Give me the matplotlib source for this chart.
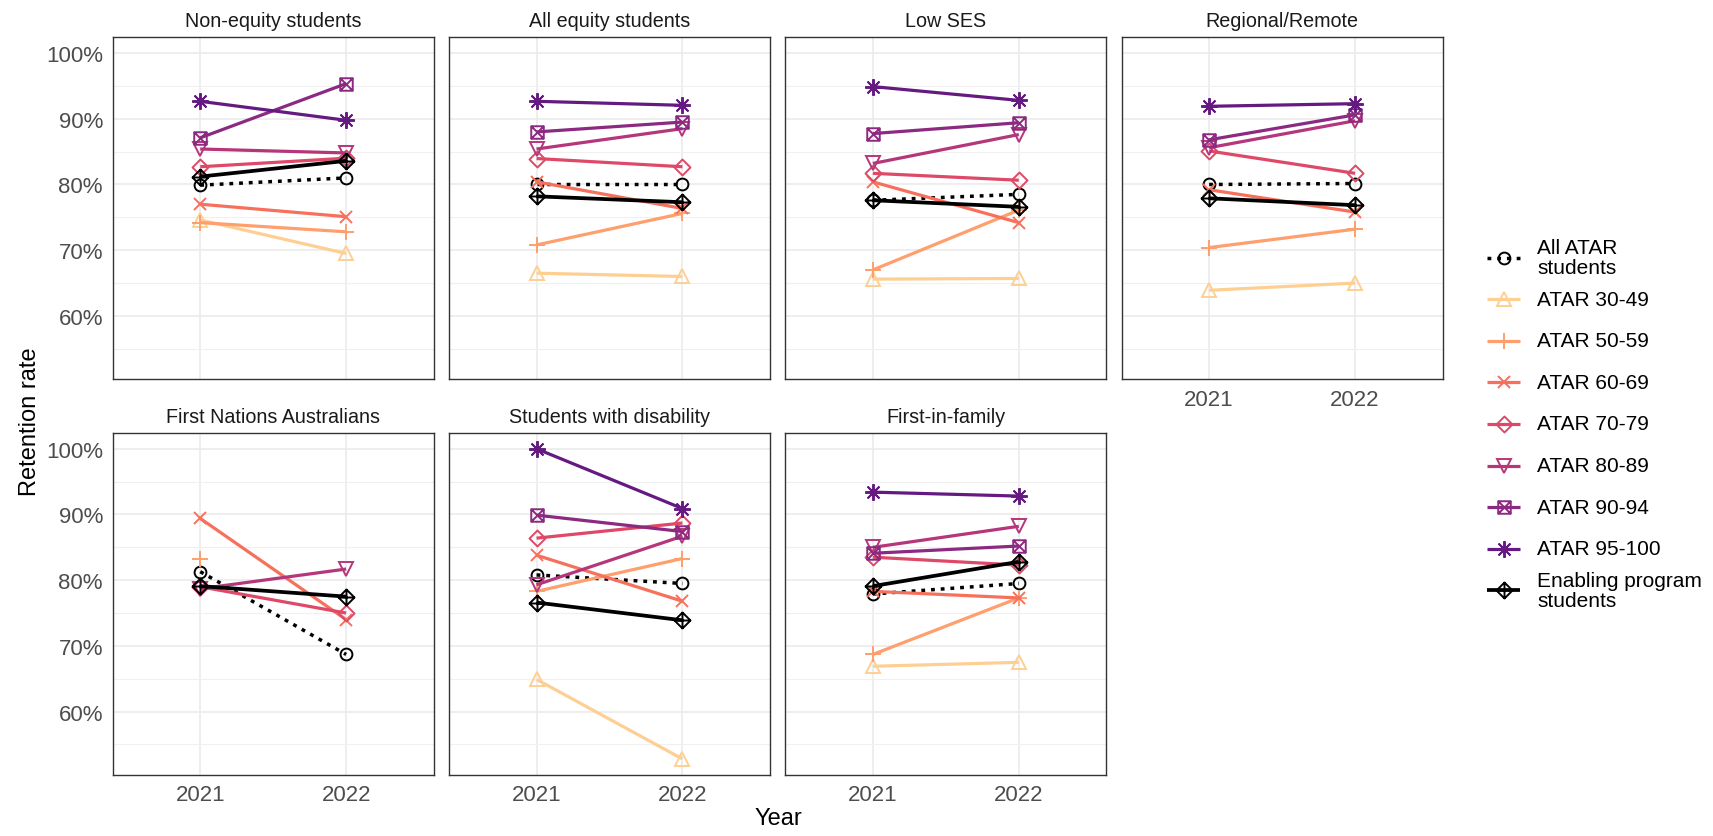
import numpy as np
import matplotlib
matplotlib.use("Agg")
import matplotlib.pyplot as plt
from matplotlib.path import Path

plt.rcParams['font.family'] = ['Liberation Sans', 'DejaVu Sans']

nan = np.nan

# panels (facet order) and years
panels = ["Non-equity students", "All equity students", "Low SES", "Regional/Remote",
          "First Nations Australians", "Students with disability", "First-in-family"]
years = ["2021", "2022"]

series = ["All ATAR\nstudents", "ATAR 30-49", "ATAR 50-59", "ATAR 60-69", "ATAR 70-79",
          "ATAR 80-89", "ATAR 90-94", "ATAR 95-100", "Enabling program\nstudents"]

# retention rate (%) per panel, one list for each year
all_atar_2021 = [79.9, 80.0, 77.6, 80.0, 81.3, 80.8, 77.9]
all_atar_2022 = [81.0, 80.0, 78.5, 80.15, 68.7, 79.5, 79.5]
atar_30_49_2021 = [74.6, 66.5, 65.6, 63.9, nan, 64.9, 66.9]
atar_30_49_2022 = [69.5, 66.0, 65.7, 65.0, nan, 52.8, 67.5]
atar_50_59_2021 = [74.2, 70.8, 67.0, 70.4, 83.2, 78.3, 68.7]
atar_50_59_2022 = [72.8, 75.6, 76.1, 73.2, nan, 83.3, 77.3]
atar_60_69_2021 = [77.0, 80.4, 80.4, 79.2, 89.4, 83.8, 78.3]
atar_60_69_2022 = [75.1, 76.35, 74.2, 75.8, 74.0, 76.8, 77.3]
atar_70_79_2021 = [82.7, 83.95, 81.7, 85.1, 79.0, 86.4, 83.5]
atar_70_79_2022 = [84.0, 82.7, 80.65, 81.7, 75.0, 88.7, 82.3]
atar_80_89_2021 = [85.4, 85.4, 83.2, 85.6, 78.7, 79.3, 85.0]
atar_80_89_2022 = [84.8, 88.5, 87.6, 89.7, 81.7, 86.7, 88.2]
atar_90_94_2021 = [87.1, 88.0, 87.75, 86.8, nan, 89.9, 84.1]
atar_90_94_2022 = [95.35, 89.5, 89.4, 90.6, nan, 87.4, 85.2]
atar_95_100_2021 = [92.66, 92.66, 94.9, 91.9, nan, 100.0, 93.4]
atar_95_100_2022 = [89.77, 92.05, 92.8, 92.3, nan, 90.9, 92.8]
enabling_2021 = [81.2, 78.2, 77.6, 77.9, 79.1, 76.6, 79.1]
enabling_2022 = [83.6, 77.3, 76.6, 76.85, 77.5, 73.9, 82.8]

values = [
    (all_atar_2021, all_atar_2022),
    (atar_30_49_2021, atar_30_49_2022),
    (atar_50_59_2021, atar_50_59_2022),
    (atar_60_69_2021, atar_60_69_2022),
    (atar_70_79_2021, atar_70_79_2022),
    (atar_80_89_2021, atar_80_89_2022),
    (atar_90_94_2021, atar_90_94_2022),
    (atar_95_100_2021, atar_95_100_2022),
    (enabling_2021, enabling_2022),
]

# marker shapes like ggplot's 7 (square cross), 5 (diamond) and 9 (diamond plus)
M, L, C = Path.MOVETO, Path.LINETO, Path.CLOSEPOLY
sq_cross = Path([(-1, -1), (1, -1), (1, 1), (-1, 1), (-1, -1), (-1, -1), (1, 1), (-1, 1), (1, -1)],
                [M, L, L, L, C, M, L, M, L])
diamond = Path([(0, -1), (1, 0), (0, 1), (-1, 0), (0, -1)], [M, L, L, L, C])
diamond_plus = Path([(0, -1), (1, 0), (0, 1), (-1, 0), (0, -1), (0, -1), (0, 1), (-1, 0), (1, 0)],
                    [M, L, L, L, C, M, L, M, L])

magma = plt.cm.magma(np.linspace(0.9, 0.3, 7))
styles = [dict(color="black", lw=2.5, dashes=(1.1, 1.7), marker="o", ms=8.5)]
shapes = [("^", 10), ("+", 11), ("x", 9), (diamond, 11.5), ("v", 10), (sq_cross, 9), ((8, 2, 0), 12)]
for col, (mk, ms) in zip(magma, shapes):
    styles.append(dict(color=col, lw=2.3, marker=mk, ms=ms))
styles.append(dict(color="black", lw=2.7, marker=diamond_plus, ms=11.5))

W, H = 1713, 837
fig = plt.figure(figsize=(W / 100, H / 100), dpi=100)

pw, ph = 321, 341.7
x = [1, 2]
for k, name in enumerate(panels):
    r, c = divmod(k, 4)
    left = 112.7 + c * 336.3
    top = 38.3 + r * 395.7
    ax = fig.add_axes([left / W, 1 - (top + ph) / H, pw / W, ph / H])
    for (y21, y22), st in zip(values, styles):
        ax.plot(x, [y21[k], y22[k]], mfc="none", mew=1.4, solid_capstyle="butt",
                dash_capstyle="butt", **st)
    ax.set_xlim(0.4, 2.6)
    ax.set_ylim(50.4, 102.4)
    ax.set_xticks(x)
    ax.set_xticklabels(years)
    ax.set_yticks([60, 70, 80, 90, 100])
    ax.set_yticklabels([f"{v}%" for v in [60, 70, 80, 90, 100]])
    ax.set_yticks([55, 65, 75, 85, 95], minor=True)
    ax.set_axisbelow(True)
    ax.grid(which="major", color="#EBEBEB", lw=1.2)
    ax.grid(which="minor", axis="y", color="#F0F0F0", lw=0.8)
    ax.tick_params(which="both", length=0, labelsize=16, labelcolor="#4D4D4D", pad=7)
    for sp in ax.spines.values():
        sp.set_color("#333333")
        sp.set_linewidth(1.0)
    if c != 0:
        ax.tick_params(labelleft=False)
    if r == 0 and k != 3:
        ax.tick_params(labelbottom=False)
    ax.set_title(name, fontsize=14.2, color="#1A1A1A", pad=8)

fig.text(30 / W, 1 - 422 / H, "Retention rate", rotation=90, ha="center", va="center", fontsize=17)
fig.text(778 / W, 1 - 819 / H, "Year", ha="center", va="center", fontsize=17)

# legend drawn in its own axes, one row per series
lg = fig.add_axes([1487 / W, 1 - 612 / H, 226 / W, 374 / H])
lg.set_xlim(0, 226)
lg.set_ylim(len(series) - 0.5, -0.5)
lg.axis("off")
for i, (lab, st) in enumerate(zip(series, styles)):
    lg.plot([0, 33], [i, i], mfc="none", mew=1.4, markevery=[], solid_capstyle="butt",
            dash_capstyle="butt", **st)
    lg.plot([16.5], [i], mfc="none", mew=1.4, linestyle="none",
            **{k2: v for k2, v in st.items() if k2 in ("color", "marker", "ms")})
    lg.text(50, i, lab, va="center", ha="left", fontsize=15, linespacing=1.05)

fig.savefig("out.png", dpi=100)
